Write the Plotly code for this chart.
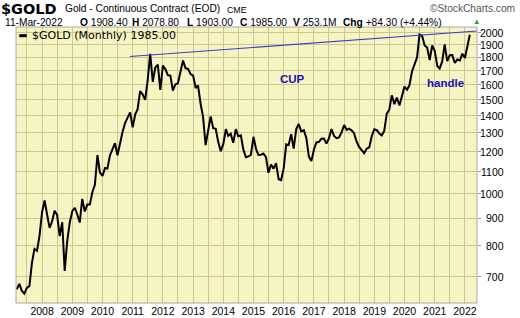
import math
import pandas as pd
import plotly.graph_objects as go

# ---------------- data ----------------
start_month = "2007-03-01"
closes = [
    # 2007 Mar-Dec
    663, 679, 659, 651, 667, 673, 743, 789, 783, 834,
    # 2008
    924, 972, 917, 864, 888, 930, 914, 834, 885, 718, 818, 884,
    # 2009
    928, 942, 916, 884, 979, 927, 955, 955, 1008, 1040, 1182, 1096,
    # 2010
    1081, 1118, 1115, 1180, 1212, 1244, 1181, 1247, 1307, 1357, 1385, 1421,
    # 2011
    1332, 1409, 1439, 1556, 1536, 1500, 1628, 1828, 1620, 1722, 1746, 1565,
    # 2012
    1737, 1710, 1668, 1664, 1560, 1604, 1610, 1687, 1776, 1719, 1713, 1675,
    # 2013
    1664, 1578, 1595, 1476, 1393, 1234, 1313, 1396, 1327, 1323, 1250, 1202,
    # 2014
    1240, 1322, 1284, 1296, 1246, 1322, 1282, 1287, 1210, 1171, 1175, 1184,
    # 2015
    1279, 1213, 1183, 1184, 1190, 1172, 1095, 1135, 1115, 1142, 1065, 1061,
    # 2016
    1116, 1238, 1234, 1293, 1215, 1322, 1351, 1309, 1316, 1273, 1174, 1152,
    # 2017
    1211, 1249, 1250, 1268, 1269, 1242, 1270, 1322, 1284, 1271, 1275, 1303,
    # 2018
    1345, 1318, 1325, 1315, 1299, 1253, 1224, 1206, 1192, 1215, 1222, 1282,
    # 2019
    1321, 1316, 1298, 1286, 1311, 1413, 1437, 1529, 1472, 1514, 1464, 1523,
    # 2020
    1588, 1566, 1597, 1694, 1751, 1800, 1986, 1976, 1895, 1879, 1780, 1895,
    # 2021
    1850, 1734, 1715, 1769, 1903, 1771, 1817, 1818, 1757, 1784, 1776, 1829,
    # 2022 Jan-Mar
    1796, 1900, 1985,
]
months = pd.date_range(start_month, periods=len(closes), freq="MS")

trend_dates = ["2010-11-28", "2022-05-27"]
trend_values = [1807, 2017]

year_labels = list(range(2008, 2023))
price_ticks = [700, 800, 900, 1000, 1100, 1200, 1300, 1400, 1500,
               1600, 1700, 1800, 1900, 2000]

cup_label = ("2016-04-12", 1643, "CUP")
handle_label = ("2021-05-10", 1613, "handle")

# ---------------- layout helpers ----------------
W, H = 520, 318
L, R, T, B = 16, 43, 27, 15
PW, PH = W - L - R, H - T - B


def px(x):
    return (x - L) / PW


def py(y):
    return (H - B - y) / PH


BG = "#F7F4C4"
GRID = "#CBC78F"
FONT = "Liberation Sans, Arial, sans-serif"

fig = go.Figure()
fig.add_trace(go.Scatter(
    x=months, y=closes, mode="lines",
    line=dict(color="black", width=2), hoverinfo="skip", showlegend=False))
fig.add_trace(go.Scatter(
    x=trend_dates, y=trend_values, mode="lines",
    line=dict(color="#3A3FC8", width=1.2), hoverinfo="skip", showlegend=False))

annotations = []


def txt(x, y, text, size=10.2, family=FONT, color="black", anchor="left"):
    annotations.append(dict(
        x=px(x), y=py(y), xref="paper", yref="paper", text=text,
        showarrow=False, xanchor=anchor, yanchor="middle", borderpad=0,
        borderwidth=0,
        font=dict(size=size, family=family, color=color)))


# header line 1
txt(1, 8.5, "<b>$GOLD</b>", size=14.5, family="DejaVu Sans, sans-serif")
txt(65, 9, "Gold - Continuous Contract (EOD)", size=10.2)
txt(227, 9.5, "CME", size=8.8)
txt(430, 9, "©StockCharts.com", size=10.2, color="#555555")
# header line 2
y2 = 22.3
txt(5, y2, "11-Mar-2022")
txt(80, y2, "<b>O</b> 1908.40")
txt(132, y2, "<b>H</b> 2078.80")
txt(187, y2, "<b>L</b> 1903.00")
txt(240, y2, "<b>C</b> 1985.00")
txt(293, y2, "<b>V</b> 253.1M")
txt(343, y2, "<b>Chg</b> +84.30 (+4.44%)")
txt(473, 21.8, "▲", size=7.5, color="#1E9E1E")
# legend
txt(32, 35.7, "$GOLD (Monthly) 1985.00", size=11, family="DejaVu Sans, sans-serif")

# y tick labels (right aligned)
for v in price_ticks:
    annotations.append(dict(
        x=px(504), y=math.log10(v), xref="paper", yref="y", text=str(v),
        showarrow=False, xanchor="right", yanchor="middle",
        borderpad=0, borderwidth=0,
        font=dict(size=10.5, family=FONT, color="black")))

# pattern labels
for (d, v, t) in (cup_label, handle_label):
    annotations.append(dict(
        x=d, y=math.log10(v), xref="x", yref="y", text=f"<b>{t}</b>",
        showarrow=False, xanchor="center", yanchor="middle",
        font=dict(size=11.5, family=FONT, color="#1414B4")))

shapes = [
    dict(type="line", xref="paper", yref="paper",
         x0=px(19.3), x1=px(26.7), y0=py(35.7), y1=py(35.7),
         line=dict(color="black", width=3)),
    dict(type="rect", xref="paper", yref="paper", x0=0, x1=1, y0=0, y1=1,
         line=dict(color="#A8A8A8", width=1), layer="above"),
]

fig.update_layout(
    width=W, height=H,
    margin=dict(l=L, r=R, t=T, b=B, pad=0, autoexpand=False),
    paper_bgcolor="white", plot_bgcolor=BG,
    annotations=annotations, shapes=shapes,
    showlegend=False,
    xaxis=dict(
        type="date", automargin=False,
        range=["2007-02-20", "2022-05-27"],
        tickmode="array",
        tickvals=[f"{y}-01-01" for y in year_labels],
        ticktext=[str(y) for y in year_labels],
        ticks="", ticklen=0, showgrid=True, gridcolor=GRID, gridwidth=1,
        minor=dict(dtick="M6", tick0="2007-07-01", showgrid=True,
                   gridcolor=GRID, gridwidth=1),
        tickfont=dict(size=10.5, family=FONT, color="black"),
        zeroline=False, showline=False,
    ),
    yaxis=dict(
        type="log", side="right", automargin=False,
        range=[math.log10(625.1), math.log10(2052)],
        tickmode="array", tickvals=price_ticks,
        showticklabels=False,
        ticks="outside", ticklen=3, tickcolor="#999999",
        showgrid=True, gridcolor=GRID, gridwidth=1,
        zeroline=False, showline=False,
    ),
)

fig.write_html("out.html")
